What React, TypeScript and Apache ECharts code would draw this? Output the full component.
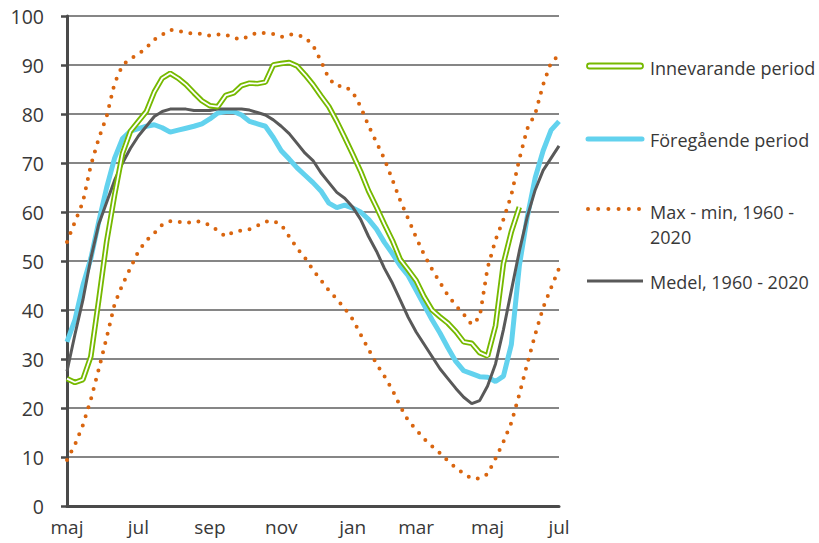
import React, { useEffect, useRef } from "react";
import * as echarts from "echarts";

// ISO weeks: 2020 v18 .. 2020 v53, 2021 v1 .. 2021 v27
const weeks = [
  18, 19, 20, 21, 22, 23, 24, 25, 26, 27, 28, 29, 30, 31, 32, 33, 34, 35, 36, 37, 38, 39, 40, 41, 42, 43, 44, 45,
  46, 47, 48, 49, 50, 51, 52, 53, 1, 2, 3, 4, 5, 6, 7, 8, 9, 10, 11, 12, 13, 14, 15, 16, 17, 18, 19, 20, 21, 22,
  23, 24, 25, 26, 27,
];
const categories = weeks.map((w, i) => `${i < 36 ? 2020 : 2021} v${w}`);

const monthLabelIndex = [0, 9, 18, 27, 36, 44, 53, 62];
const monthLabels = ["maj", "jul", "sep", "nov", "jan", "mar", "maj", "jul"];

const innevarande = [
  26, 25.2, 25.8, 30.5, 42, 54, 63.5, 72, 76.5, 78.5, 80.5, 84.5, 87.3, 88.3, 87.3, 86, 84.3, 82.7, 81.7, 81.5,
  83.8, 84.3, 85.8, 86.3, 86.2, 86.5, 90, 90.3, 90.5, 89.8, 88, 86, 83.7, 81.5, 78.5, 75.2, 71.8, 68.3, 64.3, 61,
  57.5, 54.2, 50.3, 48.2, 46, 42.7, 40, 38.6, 37.3, 35.6, 33.5, 33.2, 31.3, 30.6, 36.8, 49.5, 56, 61,
];
const foregaende = [
  33.5, 38, 45, 50.5, 58, 65, 71, 75, 76.5, 77, 77.5, 77.8, 77.2, 76.3, 76.7, 77.1, 77.5, 78, 79, 80.2, 80.5,
  80.5, 79.8, 78.5, 78, 77.5, 75.2, 72.5, 70.8, 69, 67.5, 66, 64.3, 61.8, 60.9, 61.4, 60.8, 60, 58.5, 56.5, 53.8,
  51.5, 49, 47, 44, 41, 38, 35.3, 32.3, 29.5, 27.6, 27, 26.4, 26.3, 25.4, 26.5, 33, 49, 59, 67, 72.5, 76.7, 78.5,
];
const maxValues = [
  53.9, 58, 62, 69.5, 75, 79.5, 86.3, 90, 91.3, 92.2, 93.5, 95.2, 96.2, 97.2, 97, 96.6, 96.4, 96.4, 96, 96.2,
  96.2, 95.5, 95.2, 96, 96.6, 96.5, 96.3, 95.7, 96.2, 96.2, 95.6, 94, 90.8, 87.2, 85.7, 85.7, 84.5, 81.5, 77.6,
  74.2, 70.8, 66.6, 62.3, 58.6, 54.8, 51.3, 48.3, 45.6, 43, 40.9, 39.1, 37, 38.5, 48.6, 54.3, 58.5, 63.5, 70.8,
  77, 80, 86, 90.5, 92,
];
const minValues = [
  9.4, 12.5, 16.5, 21.7, 27.9, 34.4, 41.2, 45.2, 48.6, 52, 54.2, 55.7, 57.4, 58.1, 58, 57.7, 58.1, 58, 57.3,
  56.2, 55, 56, 56.2, 56.5, 57.2, 58, 58.2, 57.4, 55, 52.6, 50.6, 48.2, 46.1, 44, 42.2, 40.3, 38.1, 35, 32, 29,
  26.5, 23.7, 20.3, 17.4, 15.6, 13.7, 12.2, 10.8, 9.2, 7.8, 6.6, 5.6, 5.6, 6.5, 9.7, 13.1, 17, 22.8, 29, 35,
  40.5, 44.5, 48.5,
];
const medel = [
  27.5, 35, 42, 50.5, 57.5, 62, 66.5, 70, 73, 75.5, 77.5, 79.5, 80.5, 81, 81, 81, 80.7, 80.7, 80.7, 81, 81, 81,
  81, 80.8, 80.3, 79.8, 78.8, 77.5, 76, 74, 72, 70.5, 68, 66, 64, 62.8, 61, 58.5, 55, 52, 48.5, 45.5, 42, 38.5,
  35.5, 33, 30.5, 28, 26, 24, 22.2, 20.9, 21.5, 24.5, 29, 36, 44, 52, 59, 64.5, 68.5, 71, 73.5,
];

const legendNames = [
  "Innevarande period",
  "Föregående period",
  "Max - min, 1960 -\n2020",
  "Medel, 1960 - 2020",
];

const GREEN = "#76b900";
const BLUE = "#62d2ee";
const ORANGE = "#d9650f";
const GRAY = "#595959";
const TEXT = "#383838";
const FONT = "Open Sans";

export default function App() {
  const ref = useRef<HTMLDivElement>(null);
  useEffect(() => {
    if (!ref.current) return;
    const chart = echarts.init(ref.current, null, { renderer: "svg" });
    const dotted = { type: [0, 9.5] as any, cap: "round" as const, width: 4, color: ORANGE };
    const legendX1 = 587;
    const legendX2 = 643;
    const textStyle = (text: string, y: number) => ({
      type: "text",
      x: 650,
      y,
      style: { text, fill: TEXT, fontSize: 18, fontFamily: FONT, verticalAlign: "middle", lineHeight: 25 },
    });
    chart.setOption({
      animation: false,
      grid: { left: 67, right: 260, top: 16, bottom: 37 },
      xAxis: {
        type: "category",
        data: categories,
        boundaryGap: false,
        axisLine: { lineStyle: { color: "#4a4a4a", width: 3 } },
        axisTick: { show: false },
        axisLabel: {
          interval: (index: number) => monthLabelIndex.includes(index),
          formatter: (_v: string, index: number) => monthLabels[monthLabelIndex.indexOf(index)] ?? "",
          color: TEXT,
          fontSize: 19,
          fontFamily: FONT,
          margin: 11,
        },
        splitLine: { show: false },
      },
      yAxis: {
        type: "value",
        min: 0,
        max: 100,
        interval: 10,
        axisLine: { show: true, lineStyle: { color: "#4a4a4a", width: 3 } },
        axisTick: { show: true, length: 6, lineStyle: { color: "#4a4a4a", width: 2.5 } },
        axisLabel: { color: TEXT, fontSize: 19.5, fontFamily: FONT, margin: 23 },
        splitLine: { lineStyle: { color: "#5e5e5e", width: 1.5 } },
      },
      series: [
        {
          name: "Föregående period",
          type: "line",
          data: foregaende,
          showSymbol: false,
          lineStyle: { color: BLUE, width: 5 },
          z: 2,
        },
        {
          name: "Medel, 1960 - 2020",
          type: "line",
          data: medel,
          showSymbol: false,
          lineStyle: { color: GRAY, width: 3 },
          z: 3,
        },
        {
          name: "Max, 1960 - 2020",
          type: "line",
          data: maxValues,
          showSymbol: false,
          lineStyle: dotted,
          z: 4,
        },
        {
          name: "Min, 1960 - 2020",
          type: "line",
          data: minValues,
          showSymbol: false,
          lineStyle: dotted,
          z: 4,
        },
        {
          name: "Innevarande period",
          type: "line",
          data: innevarande,
          showSymbol: false,
          lineStyle: { color: GREEN, width: 5.5 },
          z: 5,
        },
        {
          name: "Innevarande period (inre)",
          type: "line",
          data: innevarande,
          showSymbol: false,
          lineStyle: { color: "#ffffff", width: 1.8 },
          z: 6,
        },
      ],
      graphic: [
        {
          type: "rect",
          shape: { x: legendX1, y: 63.5, width: legendX2 - legendX1, height: 5, r: 2.5 },
          style: { fill: "#ffffff", stroke: GREEN, lineWidth: 1.8 },
        },
        textStyle(legendNames[0], 68),
        {
          type: "line",
          shape: { x1: legendX1 + 1, y1: 139, x2: legendX2 - 1, y2: 139 },
          style: { stroke: BLUE, lineWidth: 5, lineCap: "round" },
        },
        textStyle(legendNames[1], 139.5),
        {
          type: "line",
          shape: { x1: legendX1 + 1, y1: 209, x2: legendX2 - 4, y2: 209 },
          style: { stroke: ORANGE, lineWidth: 4, lineDash: [0, 10.2], lineCap: "round" },
        },
        textStyle(legendNames[2], 224),
        {
          type: "line",
          shape: { x1: legendX1, y1: 281, x2: legendX2, y2: 281 },
          style: { stroke: GRAY, lineWidth: 3 },
        },
        textStyle(legendNames[3], 282),
      ],
    });
    return () => chart.dispose();
  }, []);
  return <div ref={ref} style={{ position: "absolute", left: 0, top: 0, width: 819, height: 543 }} />;
}
